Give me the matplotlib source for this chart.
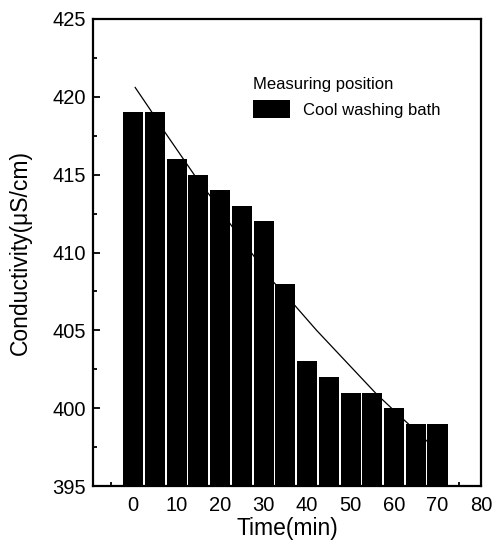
import matplotlib
matplotlib.use("Agg")
import matplotlib.pyplot as plt
from matplotlib.ticker import MultipleLocator

plt.rcParams['font.family'] = ['Liberation Sans', 'DejaVu Sans']

# Data
times = [0, 5, 10, 15, 20, 25, 30, 35, 40, 45, 50, 55, 60, 65, 70]
conductivity = [419, 419, 416, 415, 414, 413, 412, 408, 403, 402, 401, 401, 400, 399, 399]
trend_x = [0.5, 3.9, 7.4, 14.3, 18.1, 22.7, 27.7, 32.3, 37.2, 42.2, 56.0, 62.1, 67.9]
trend_y = [420.6, 419.2, 417.7, 414.9, 413.5, 411.7, 409.8, 408.1, 406.6, 405.0, 400.9, 399.3, 397.8]
x_ticks = [0, 10, 20, 30, 40, 50, 60, 70, 80]
y_ticks = [395, 400, 405, 410, 415, 420, 425]
series_label = "Cool washing bath"
legend_title = "Measuring position"
x_label = "Time(min)"
y_label = "Conductivity(\u03bcS/cm)"

fig = plt.figure(figsize=(4.94, 5.57), dpi=100)
ax = fig.add_axes([93/494, 1 - 486/557, (481 - 93)/494, (486 - 19)/557])

ax.bar(times, conductivity, width=4.6, color='black', edgecolor='none',
       label=series_label, zorder=2)
ax.plot(trend_x, trend_y, color='black', linewidth=0.9, zorder=3)

ax.set_xlim(-9.2, 80)
ax.set_ylim(395, 425)
ax.set_xticks(x_ticks)
ax.set_yticks(y_ticks)
ax.xaxis.set_minor_locator(MultipleLocator(5))
ax.yaxis.set_minor_locator(MultipleLocator(2.5))
ax.tick_params(axis='both', which='both', direction='in', top=False, right=False,
               width=1.3)
ax.tick_params(axis='both', which='major', length=5, labelsize=14.5)
ax.tick_params(axis='both', which='minor', length=3)
ax.tick_params(axis='y', which='major', pad=5)
ax.tick_params(axis='x', which='major', pad=7)

for s in ax.spines.values():
    s.set_linewidth(1.6)

ax.set_xlabel(x_label, fontsize=16.5, labelpad=2)
ax.set_ylabel(y_label, fontsize=16.5, labelpad=15)

leg = ax.legend(title=legend_title, loc='upper left', frameon=False,
                bbox_to_anchor=(253/494, 1 - 77/557), bbox_transform=fig.transFigure,
                fontsize=12, title_fontsize=12, handlelength=2.2, handleheight=1.25,
                handletextpad=0.8, borderpad=0, borderaxespad=0, alignment='left')

fig.savefig("out.png", dpi=100)
